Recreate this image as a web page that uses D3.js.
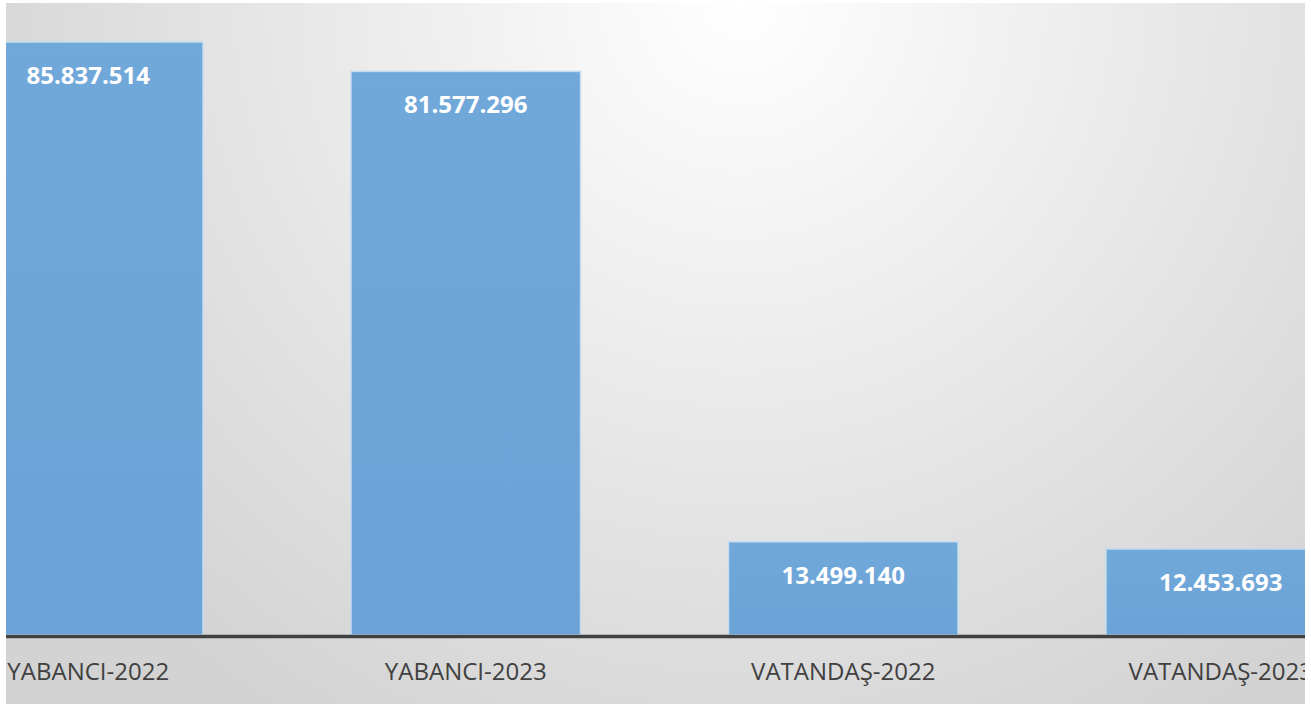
<!DOCTYPE html>
<html>
<head>
<meta charset="utf-8">
<script src="https://cdn.jsdelivr.net/npm/d3@7"></script>
<style>
  html, body { margin: 0; padding: 0; background: #fff; }
  svg { display: block; }
</style>
</head>
<body>
<svg id="chart" width="1311" height="704"></svg>
<script>
// Chart data
var categories = ["YABANCI-2022", "YABANCI-2023", "VATANDAŞ-2022", "VATANDAŞ-2023"],
values = [85837514, 81577296, 13499140, 12453693],
valueLabels = ["85.837.514", "81.577.296", "13.499.140", "12.453.693"];

var W = 1311, H = 704,
area = {left: 6, top: 3, right: 1305, bottom: 704},
baseY = 635;

var svg = d3.select("#chart");
var defs = svg.append("defs");

// background radial gradient (white near top centre)
var bg = defs.append("radialGradient")
  .attr("id", "bgGrad")
  .attr("gradientUnits", "userSpaceOnUse")
  .attr("cx", 740).attr("cy", 0).attr("r", 840);
bg.append("stop").attr("offset", "0%").attr("stop-color", "#ffffff");
bg.append("stop").attr("offset", "100%").attr("stop-color", "#d3d3d3");

var barGrad = defs.append("linearGradient")
  .attr("id", "barGrad").attr("x1", 0).attr("y1", 0).attr("x2", 0).attr("y2", 1);
barGrad.append("stop").attr("offset", "0%").attr("stop-color", "#71a8da");
barGrad.append("stop").attr("offset", "100%").attr("stop-color", "#6ba3d6");

defs.append("clipPath").attr("id", "plotClip")
  .append("rect")
  .attr("x", area.left).attr("y", area.top)
  .attr("width", area.right - area.left).attr("height", area.bottom - area.top);

svg.append("rect")
  .attr("x", area.left).attr("y", area.top)
  .attr("width", area.right - area.left).attr("height", area.bottom - area.top)
  .attr("fill", "url(#bgGrad)");

var g = svg.append("g").attr("clip-path", "url(#plotClip)");

// scales
var x = d3.scaleBand()
  .domain(categories)
  .range([-100.5, 1409.5])
  .paddingInner(0.392)
  .paddingOuter(0.196);

var y = d3.scaleLinear()
  .domain([0, d3.max(values)])
  .range([baseY, 42]);

// bars
g.selectAll("rect.bar")
  .data(values)
  .enter().append("rect")
  .attr("class", "bar")
  .attr("x", function(d, i){ return x(categories[i]); })
  .attr("y", function(d){ return y(d); })
  .attr("width", x.bandwidth())
  .attr("height", function(d){ return baseY - y(d); })
  .attr("fill", "url(#barGrad)")
  .attr("stroke", "#c5dcf0")
  .attr("stroke-width", 1.5);

// value labels inside end
g.selectAll("text.val")
  .data(values)
  .enter().append("text")
  .attr("class", "val")
  .attr("x", function(d, i){ return x(categories[i]) + x.bandwidth() / 2; })
  .attr("y", function(d){ return y(d) + 42; })
  .attr("text-anchor", "middle")
  .attr("font-family", "'Open Sans', 'Liberation Sans', sans-serif")
  .attr("font-weight", "bold")
  .attr("font-size", "24px")
  .attr("fill", "#ffffff")
  .text(function(d, i){ return valueLabels[i]; });

// axis baseline
g.append("line")
  .attr("x1", area.left).attr("x2", area.right)
  .attr("y1", baseY + 1.5).attr("y2", baseY + 1.5)
  .attr("stroke", "#404040")
  .attr("stroke-width", 3.5);

// category labels
g.selectAll("text.cat")
  .data(categories)
  .enter().append("text")
  .attr("class", "cat")
  .attr("x", function(d){ return x(d) + x.bandwidth() / 2; })
  .attr("y", 680)
  .attr("text-anchor", "middle")
  .attr("font-family", "'Open Sans', 'Liberation Sans', sans-serif")
  .attr("font-size", "24px")
  .attr("fill", "#404040")
  .text(function(d){ return d; });
</script>
</body>
</html>
